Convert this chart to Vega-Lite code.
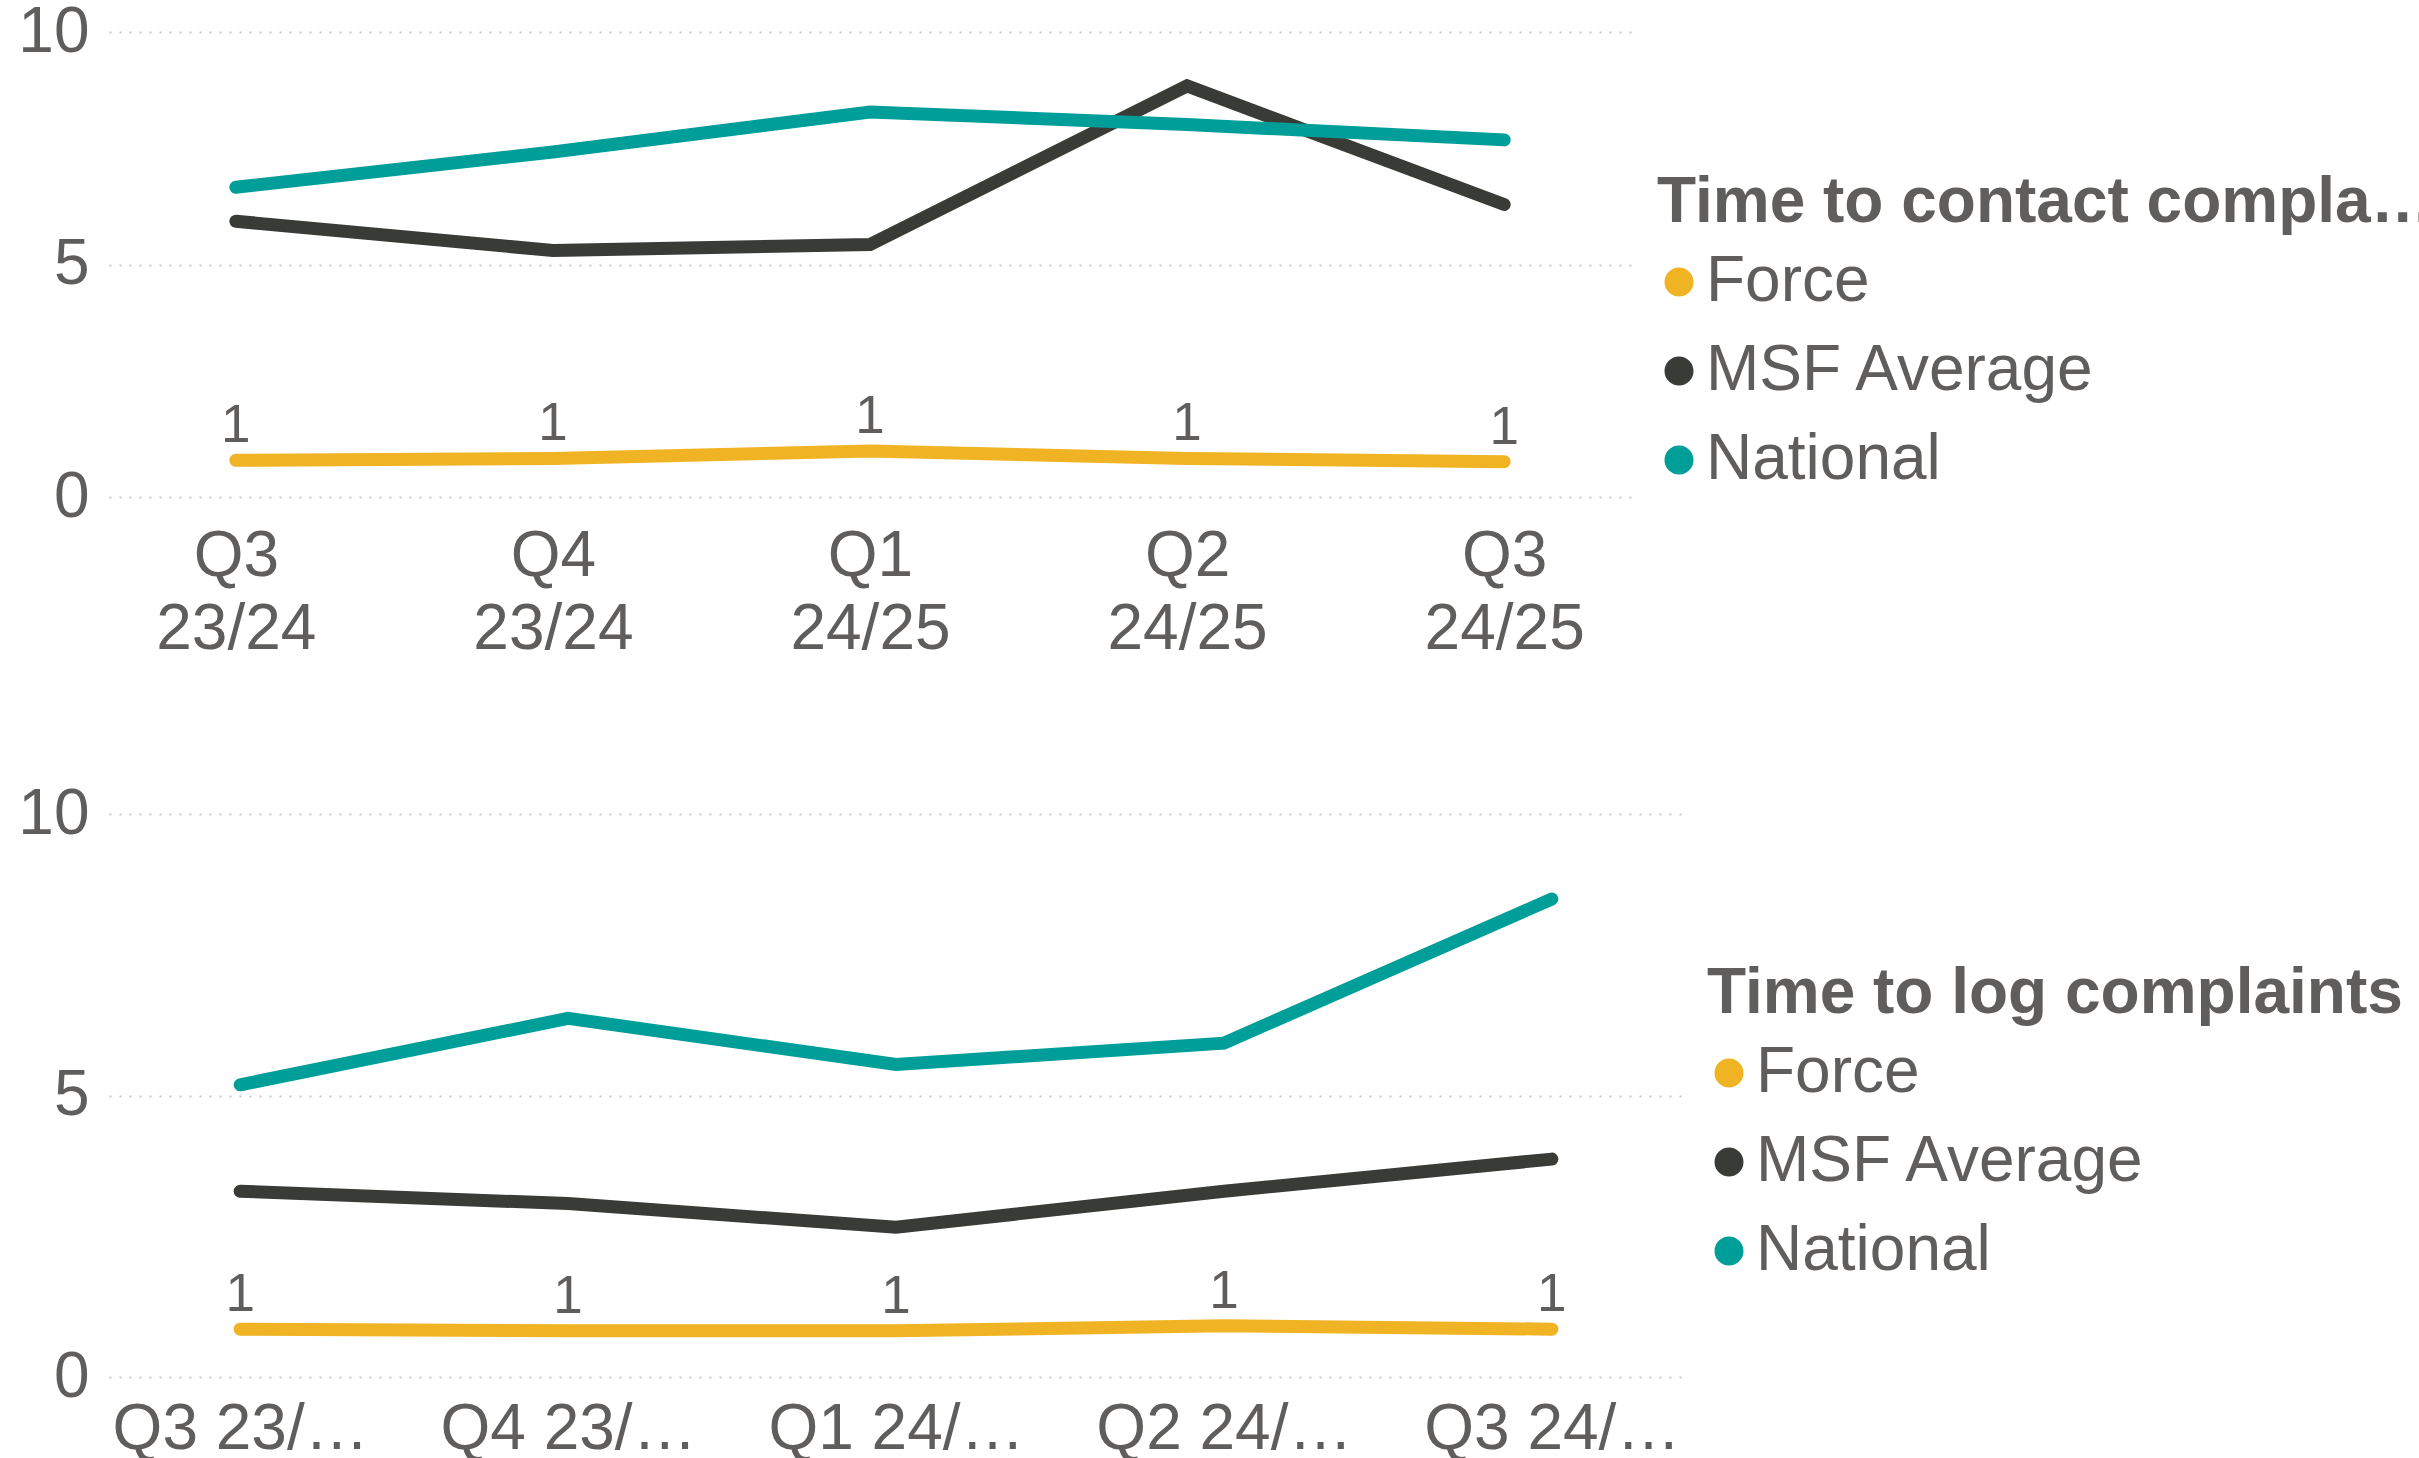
{
  "$schema": "https://vega.github.io/schema/vega-lite/v6.json",
  "padding": {"left": 17, "top": 0, "right": 0, "bottom": 0},
  "spacing": 121,
  "datasets": {
    "contact": [
      {"quarter": "Q3 23/24", "series": "Force", "value": 0.79},
      {"quarter": "Q4 23/24", "series": "Force", "value": 0.83},
      {"quarter": "Q1 24/25", "series": "Force", "value": 0.99},
      {"quarter": "Q2 24/25", "series": "Force", "value": 0.83},
      {"quarter": "Q3 24/25", "series": "Force", "value": 0.76},
      {"quarter": "Q3 23/24", "series": "MSF Average", "value": 5.93},
      {"quarter": "Q4 23/24", "series": "MSF Average", "value": 5.3},
      {"quarter": "Q1 24/25", "series": "MSF Average", "value": 5.43},
      {"quarter": "Q2 24/25", "series": "MSF Average", "value": 8.84},
      {"quarter": "Q3 24/25", "series": "MSF Average", "value": 6.29},
      {"quarter": "Q3 23/24", "series": "National", "value": 6.66},
      {"quarter": "Q4 23/24", "series": "National", "value": 7.42},
      {"quarter": "Q1 24/25", "series": "National", "value": 8.28},
      {"quarter": "Q2 24/25", "series": "National", "value": 8.01},
      {"quarter": "Q3 24/25", "series": "National", "value": 7.68}
    ],
    "log": [
      {"quarter": "Q3 23/24", "series": "Force", "value": 0.85},
      {"quarter": "Q4 23/24", "series": "Force", "value": 0.82},
      {"quarter": "Q1 24/25", "series": "Force", "value": 0.82},
      {"quarter": "Q2 24/25", "series": "Force", "value": 0.91},
      {"quarter": "Q3 24/25", "series": "Force", "value": 0.85},
      {"quarter": "Q3 23/24", "series": "MSF Average", "value": 3.3},
      {"quarter": "Q4 23/24", "series": "MSF Average", "value": 3.08},
      {"quarter": "Q1 24/25", "series": "MSF Average", "value": 2.66},
      {"quarter": "Q2 24/25", "series": "MSF Average", "value": 3.3},
      {"quarter": "Q3 24/25", "series": "MSF Average", "value": 3.87},
      {"quarter": "Q3 23/24", "series": "National", "value": 5.19},
      {"quarter": "Q4 23/24", "series": "National", "value": 6.37},
      {"quarter": "Q1 24/25", "series": "National", "value": 5.55},
      {"quarter": "Q2 24/25", "series": "National", "value": 5.93},
      {"quarter": "Q3 24/25", "series": "National", "value": 8.49}
    ]
  },
  "vconcat": [
    {
      "width": 1522,
      "height": 465,
      "data": {"name": "contact"},
      "encoding": {
        "x": {
          "field": "quarter", "type": "ordinal", "sort": null,
          "scale": {"type": "point", "padding": 0.4},
          "axis": {"labelExpr": "split(datum.label, ' ')", "labelLineHeight": 73, "labelPadding": 27}
        },
        "y": {
          "field": "value", "type": "quantitative",
          "scale": {"domain": [0, 10]},
          "axis": {"values": [0, 5, 10]}
        }
      },
      "layer": [
        {
          "mark": {"type": "line", "strokeWidth": 13, "strokeCap": "round", "strokeJoin": "miter"},
          "encoding": {
            "color": {
              "field": "series", "type": "nominal",
              "scale": {"domain": ["Force", "MSF Average", "National"], "range": ["#F0B323", "#393B37", "#009E98"]},
              "legend": {"orient": "none", "legendX": 1548, "legendY": 139, "title": "Time to contact complainants", "titleLimit": 790}
            }
          }
        },
        {
          "transform": [{"filter": "datum.series === 'Force'"}],
          "mark": {"type": "text", "fontSize": 53, "baseline": "alphabetic", "dy": -18, "color": "#605E5C"},
          "encoding": {"text": {"field": "value", "type": "quantitative", "format": ".0f"}}
        }
      ]
    },
    {
      "width": 1574,
      "height": 563,
      "data": {"name": "log"},
      "encoding": {
        "x": {
          "field": "quarter", "type": "ordinal", "sort": null,
          "scale": {"type": "point", "padding": 0.4},
          "axis": {"labelLimit": 260, "labelPadding": 20}
        },
        "y": {
          "field": "value", "type": "quantitative",
          "scale": {"domain": [0, 10]},
          "axis": {"values": [0, 5, 10]}
        }
      },
      "layer": [
        {
          "mark": {"type": "line", "strokeWidth": 13, "strokeCap": "round", "strokeJoin": "miter"},
          "encoding": {
            "color": {
              "field": "series", "type": "nominal",
              "scale": {"domain": ["Force", "MSF Average", "National"], "range": ["#F0B323", "#393B37", "#009E98"]},
              "legend": {"orient": "none", "legendX": 1598, "legendY": 148, "title": "Time to log complaints", "titleLimit": 900}
            }
          }
        },
        {
          "transform": [{"filter": "datum.series === 'Force'"}],
          "mark": {"type": "text", "fontSize": 53, "baseline": "alphabetic", "dy": -18, "color": "#605E5C"},
          "encoding": {"text": {"field": "value", "type": "quantitative", "format": ".0f"}}
        }
      ]
    }
  ],
  "resolve": {"scale": {"color": "independent"}, "legend": {"color": "independent"}},
  "config": {
    "font": "Liberation Sans",
    "view": {"stroke": null},
    "axis": {
      "domain": false,
      "ticks": false,
      "title": null,
      "labelColor": "#605E5C",
      "labelFontSize": 64,
      "labelAngle": 0,
      "labelOverlap": false,
      "grid": false
    },
    "axisY": {
      "grid": true,
      "gridColor": "#C8C8C8",
      "gridDash": [2, 8],
      "gridWidth": 2,
      "labelPadding": 20
    },
    "legend": {
      "symbolType": "circle",
      "symbolSize": 210,
      "symbolStrokeWidth": 14.5,
      "symbolOffset": -10,
      "labelOffset": -5,
      "labelFontSize": 64,
      "labelColor": "#605E5C",
      "labelLimit": 800,
      "titleFontSize": 64,
      "titleFontWeight": "bold",
      "titleColor": "#605E5C",
      "titlePadding": 15,
      "rowPadding": 15
    }
  }
}
